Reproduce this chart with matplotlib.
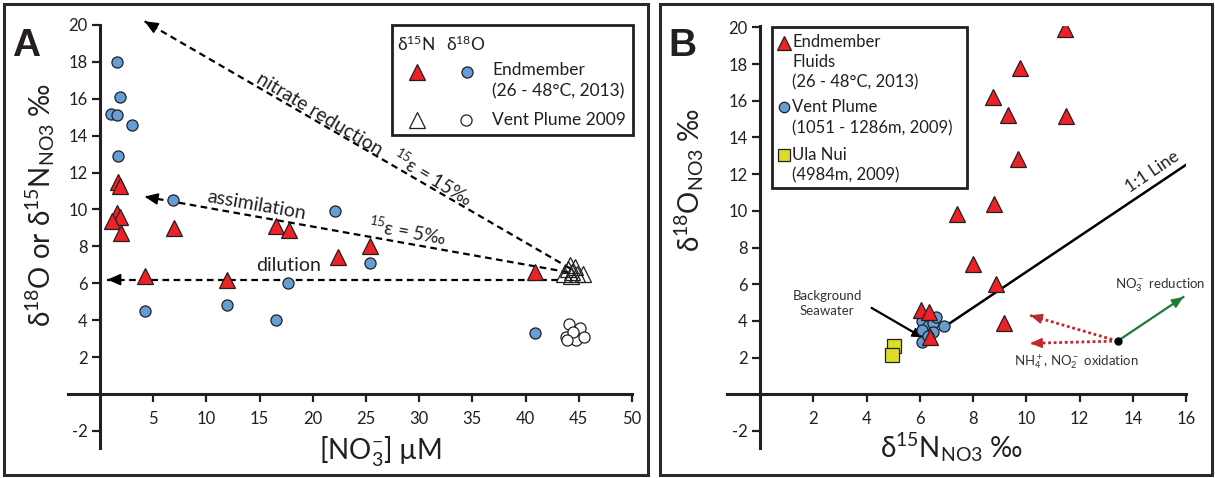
import matplotlib
matplotlib.use('Agg')
import matplotlib.pyplot as plt
from matplotlib.patches import Rectangle

plt.rcParams['font.family'] = ['Lato', 'DejaVu Sans']
plt.rcParams['mathtext.default'] = 'regular'

# ---------------- data: panel A ([NO3-] vs isotopes) ----------------
em_n_conc = [1.7, 1.9, 1.6, 1.9, 1.1, 2.0, 7.0, 16.5, 17.8, 22.4, 25.4, 4.2, 11.9, 40.9]
em_n_d15n = [11.5, 11.3, 9.8, 9.6, 9.4, 8.7, 9.0, 9.1, 8.9, 7.4, 8.0, 6.4, 6.2, 6.6]
em_o_conc = [1.6, 1.9, 1.0, 1.6, 3.0, 1.7, 6.9, 22.1, 25.4, 17.7, 11.9, 4.2, 16.5, 40.9]
em_o_d18o = [18.0, 16.1, 15.2, 15.1, 14.6, 12.9, 10.5, 9.9, 7.1, 6.0, 4.8, 4.5, 4.0, 3.3]
vp_n_conc = [43.6, 44.0, 44.2, 44.4, 44.6, 44.8, 45.4, 44.3]
vp_n_d15n = [6.5, 6.8, 7.0, 6.6, 6.9, 6.5, 6.5, 6.4]
vp_o_conc = [44.1, 45.1, 43.8, 44.7, 45.5, 44.5, 43.9]
vp_o_d18o = [3.8, 3.6, 3.1, 2.9, 3.1, 3.35, 2.9]

a_xticks = [5, 10, 15, 20, 25, 30, 35, 40, 45, 50]
a_yticks = [-2, 2, 4, 6, 8, 10, 12, 14, 16, 18, 20]

# arrows in A: (start, tip)
a_arrow_reduction = ((44.2, 6.8), (4.2, 20.2))
a_arrow_assim = ((44.0, 6.6), (4.2, 10.7))
a_arrow_dilution = ((43.0, 6.2), (0.7, 6.2))

# ---------------- data: panel B (d15N vs d18O) ----------------
b_em_d15n = [11.45, 9.75, 8.75, 9.3, 11.5, 9.7, 8.8, 7.4, 8.0, 8.85, 9.15, 6.05, 6.35, 6.4]
b_em_d18o = [19.9, 17.8, 16.2, 15.2, 15.15, 12.8, 10.35, 9.85, 7.1, 6.0, 3.9, 4.6, 4.5, 3.1]
b_vp_d15n = [6.1, 6.3, 6.5, 6.6, 6.9, 6.1, 6.5, 6.1, 6.3]
b_vp_d18o = [4.0, 3.7, 3.9, 4.2, 3.7, 3.5, 3.4, 2.85, 3.2]
b_ula_d15n = [5.05, 4.95]
b_ula_d18o = [2.65, 2.15]

b_xticks = [2, 4, 6, 8, 10, 12, 14, 16]
b_yticks = [-2, 2, 4, 6, 8, 10, 12, 14, 16, 18, 20]

b_line11 = ((6.9, 3.65), (16.2, 12.7))
b_bg_arrow = ((4.2, 4.7), (6.1, 3.1))
b_origin = (13.43, 2.9)
b_green_tip = (15.9, 5.3)
b_red_tips = [(10.15, 4.3), (10.15, 2.78)]

RED = '#ec2227'
BLUE = '#659dd6'
YEL = '#dcdc2a'
INK = '#231f20'

W, H = 1215, 478
fig = plt.figure(figsize=(W / 100, H / 100), dpi=100)


def px_axes(l, r, t, b):
    return fig.add_axes([l / W, 1 - b / H, (r - l) / W, (b - t) / H])


def setup(ax, xlim, ylim, xt, yt):
    ax.set_xlim(*xlim)
    ax.set_ylim(*ylim)
    for s in ['top', 'right']:
        ax.spines[s].set_visible(False)
    for s in ['left', 'bottom']:
        ax.spines[s].set_position(('data', 0))
        ax.spines[s].set_linewidth(2.2)
        ax.spines[s].set_color(INK)
    ax.set_xticks(xt)
    ax.set_xticklabels([str(v) for v in xt])
    ax.set_yticks(yt)
    ax.set_yticklabels([str(v) for v in yt])
    ax.tick_params(axis='both', direction='out', length=6, width=1.6,
                   labelsize=12, colors=INK)
    ax.tick_params(axis='x', pad=6)
    ax.tick_params(axis='y', pad=3)
    ax.patch.set_alpha(0)


def head(ax, start, tip, color, frac=0.02, hl=0.8, hw=0.35):
    back = (tip[0] + frac * (start[0] - tip[0]), tip[1] + frac * (start[1] - tip[1]))
    ax.annotate('', xy=tip, xytext=back,
                arrowprops=dict(arrowstyle=f'-|>,head_length={hl},head_width={hw}',
                                color=color, lw=1.2, shrinkA=0, shrinkB=0),
                annotation_clip=False)


# ---------------- panel A ----------------
axA = px_axes(68, 632, 25, 447.5)
setup(axA, (-3, 50), (-2.9, 20), a_xticks, a_yticks)

for (st, tp) in [a_arrow_reduction, a_arrow_assim, a_arrow_dilution]:
    axA.plot([st[0], tp[0]], [st[1], tp[1]], color='k', lw=1.6,
             ls=(0, (3, 2)), clip_on=False, zorder=2)
    head(axA, st, tp, 'k', frac=0.025)

axA.plot(em_o_conc, em_o_d18o, 'o', ms=8, mfc=BLUE, mec=INK, mew=0.9, zorder=3)
axA.plot(em_n_conc, em_n_d15n, '^', ms=11, mfc=RED, mec=INK, mew=0.9, zorder=4)
axA.plot(vp_o_conc, vp_o_d18o, 'o', ms=8, mfc='white', mec=INK, mew=0.9, zorder=3)
axA.plot(vp_n_conc, vp_n_d15n, '^', ms=11, mfc='none', mec=INK, mew=0.9, zorder=4)

axA.text(20.2, 14.75, 'nitrate reduction', rotation=-31, rotation_mode='anchor',
         ha='center', va='bottom', fontsize=14, color=INK, zorder=5)
axA.text(31.3, 11.7, '$^{15}$ε = 15‰', rotation=-31, rotation_mode='anchor',
         ha='center', va='center', fontsize=13.5, color=INK, zorder=5)
axA.text(14.7, 10.25, 'assimilation', rotation=-10, rotation_mode='anchor',
         ha='center', va='center', fontsize=14, color=INK, zorder=5)
axA.text(28.9, 8.85, '$^{15}$ε = 5‰', rotation=-10, rotation_mode='anchor',
         ha='center', va='center', fontsize=13.5, color=INK, zorder=5)
axA.text(17.7, 6.95, 'dilution', ha='center', va='center', fontsize=14, color=INK, zorder=5)

# ---------------- panel B ----------------
axB = px_axes(727, 1186, 25.5, 447.5)
setup(axB, (-1.24, 16), (-2.9, 20.1), b_xticks, b_yticks)

axB.plot([b_line11[0][0], b_line11[1][0]], [b_line11[0][1], b_line11[1][1]],
         color='k', lw=1.8, zorder=2)
axB.text(14.75, 12.15, '1:1 Line', rotation=34, rotation_mode='anchor',
         ha='center', va='center', fontsize=12.5, color=INK)

axB.plot([b_bg_arrow[0][0], b_bg_arrow[1][0]], [b_bg_arrow[0][1], b_bg_arrow[1][1]],
         color='k', lw=1.6, zorder=2)
head(axB, b_bg_arrow[0], b_bg_arrow[1], 'k', frac=0.12, hl=0.6, hw=0.3)
axB.text(2.52, 4.96, 'Background\nSeawater', ha='center', va='center',
         fontsize=9.5, color='#333333', linespacing=1.3)

axB.plot(b_ula_d15n, b_ula_d18o, 's', ms=10, mfc=YEL, mec=INK, mew=0.9, zorder=3)
axB.plot(b_vp_d15n, b_vp_d18o, 'o', ms=8, mfc=BLUE, mec=INK, mew=0.9, zorder=3)
axB.plot(b_em_d15n, b_em_d18o, '^', ms=11, mfc=RED, mec=INK, mew=0.9, zorder=4)

axB.plot([b_origin[0], b_green_tip[0]], [b_origin[1], b_green_tip[1]],
         color='#1f7a3a', lw=1.6, zorder=2)
head(axB, b_origin, b_green_tip, '#1f7a3a', frac=0.1, hl=0.7, hw=0.3)
for tp in b_red_tips:
    axB.plot([b_origin[0], tp[0]], [b_origin[1], tp[1]], color='#c1272d',
             lw=2.0, ls=(0, (1, 1)), zorder=2)
    head(axB, b_origin, tp, '#c1272d', frac=0.08, hl=0.7, hw=0.3)
axB.plot([b_origin[0]], [b_origin[1]], 'o', ms=5, color='k', zorder=5)
axB.text(15.05, 5.95, 'NO$_3^-$ reduction', ha='center', va='center',
         fontsize=9.5, color='#333333')
axB.text(11.9, 1.75, 'NH$_4^+$, NO$_2^-$ oxidation', ha='center', va='center',
         fontsize=9.5, color='#333333')

# ---------------- overlay: frames, legends, labels ----------------
ov = fig.add_axes([0, 0, 1, 1], zorder=10)
ov.set_xlim(0, W)
ov.set_ylim(H, 0)
ov.axis('off')

ov.add_patch(Rectangle((4, 4), 644, 471, fill=False, lw=2.2, ec='#2a2a2a'))
ov.add_patch(Rectangle((660, 4), 552, 471, fill=False, lw=2.2, ec='#2a2a2a'))

ov.text(26, 46, 'A', fontsize=28, fontweight='bold', ha='center', va='center',
        family=['Liberation Sans', 'DejaVu Sans'], color=INK)
ov.text(682, 46, 'B', fontsize=28, fontweight='bold', ha='center', va='center',
        family=['Liberation Sans', 'DejaVu Sans'], color=INK)

# axis labels
ov.text(40, 205, 'δ$^{18}$O or δ$^{15}$N$_{NO3}$ ‰', rotation=90, ha='center',
        va='center', fontsize=20, color=INK)
ov.text(381, 452, '[NO$_3^{-}$] µM', ha='center', va='center', fontsize=20, color=INK)
ov.text(689, 180, 'δ$^{18}$O$_{NO3}$ ‰', rotation=90, ha='center', va='center',
        fontsize=20, color=INK)
ov.text(952, 447, 'δ$^{15}$N$_{NO3}$ ‰', ha='center', va='center', fontsize=20, color=INK)

# legend A
ov.add_patch(Rectangle((392, 25), 241, 110, fill=False, lw=2.0, ec=INK))
ov.text(397, 44, 'δ$^{15}$N', ha='left', va='center', fontsize=12.5, color=INK)
ov.text(446, 44, 'δ$^{18}$O', ha='left', va='center', fontsize=12.5, color=INK)
ov.plot([417], [72], '^', ms=12, mfc=RED, mec=INK, mew=0.9)
ov.plot([467], [72], 'o', ms=8, mfc=BLUE, mec=INK, mew=0.9)
ov.plot([417], [120], '^', ms=12, mfc='none', mec=INK, mew=0.9)
ov.plot([466], [120], 'o', ms=8, mfc='white', mec=INK, mew=0.9)
ov.text(492, 70, 'Endmember', ha='left', va='center', fontsize=12.5, color=INK)
ov.text(492, 91, '(26 - 48°C, 2013)', ha='left', va='center', fontsize=12.5, color=INK)
ov.text(492, 120, 'Vent Plume 2009', ha='left', va='center', fontsize=12.5, color=INK)

# legend B
ov.add_patch(Rectangle((772, 27), 195, 161, fill=False, lw=2.0, ec=INK))
ov.plot([784], [43], '^', ms=10, mfc=RED, mec=INK, mew=0.9)
ov.plot([784], [107], 'o', ms=7.5, mfc=BLUE, mec=INK, mew=0.9)
ov.plot([784], [155], 's', ms=9, mfc=YEL, mec=INK, mew=0.9)
for yy, s in [(42, 'Endmember'), (62, 'Fluids'), (82, '(26 - 48°C, 2013)'),
              (107, 'Vent Plume'), (128, '(1051 - 1286m, 2009)'),
              (155, 'Ula Nui'), (175, '(4984m, 2009)')]:
    ov.text(792, yy, s, ha='left', va='center', fontsize=12, color=INK)

fig.savefig('out.png', dpi=100)
